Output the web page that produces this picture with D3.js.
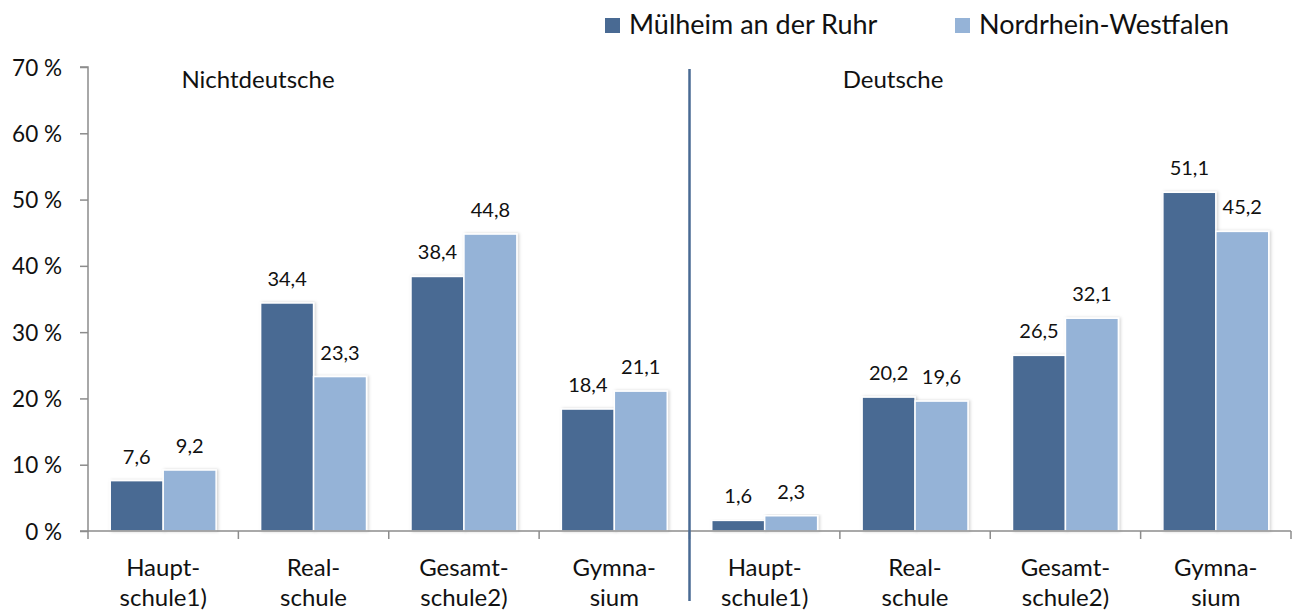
<!DOCTYPE html>
<html><head><meta charset="utf-8">
<script src="https://cdn.jsdelivr.net/npm/d3@7"></script>
<style>
body{margin:0;background:#fff;}
svg text{font-family:Lato,"Noto Sans",sans-serif;fill:#111;}
</style></head>
<body>
<svg id="c" width="1293" height="611"></svg>
<script>
const groups = ["Nichtdeutsche", "Deutsche"];
const categories = [["Haupt-","schule1)"],["Real-","schule"],["Gesamt-","schule2)"],["Gymna-","sium"]];
const series = ["Mülheim an der Ruhr", "Nordrhein-Westfalen"];
const muelheim = [7.6, 34.4, 38.4, 18.4, 1.6, 20.2, 26.5, 51.1];
const nrw = [9.2, 23.3, 44.8, 21.1, 2.3, 19.6, 32.1, 45.2];
const yTicks = [0,10,20,30,40,50,60,70];
const colors = ["#496A93", "#95B3D7"];

(function(){
const svg = d3.select("#c");
const pL = 88, pR = 1291, pT = 67, pB = 531;

const slots = d3.range(8);
const x0 = d3.scaleBand().domain(slots).range([pL, pR]).padding(0);
const x1 = d3.scaleBand().domain([0,1]).range([0, x0.bandwidth()]).paddingInner(0).paddingOuter(0.42);
const y = d3.scaleLinear().domain([0,70]).range([pB, pT]);

const defs = svg.append("defs");
const f = defs.append("filter").attr("id","sh").attr("x","-10%").attr("y","-10%").attr("width","130%").attr("height","130%");
f.append("feDropShadow").attr("dx",1.5).attr("dy",0).attr("stdDeviation",1.5).attr("flood-color","#000").attr("flood-opacity",0.18);

// Y axis
const yAxis = d3.axisLeft(y).tickValues(yTicks).tickSize(8).tickPadding(18).tickFormat(d => d + " %");
const gy = svg.append("g").attr("transform",`translate(${pL},0)`).call(yAxis);
gy.select(".domain").attr("stroke","#8c8c8c").attr("stroke-width",1.5).attr("d",`M-8,${pT}H0V${pB}H-8`);
gy.selectAll(".tick line").attr("stroke","#8c8c8c").attr("stroke-width",1.5);
gy.selectAll(".tick text").style("font-size","22.5px").style("font-family","Lato").attr("fill","#111").attr("dy","0.36em");

// bars
const data = [];
slots.forEach(i => {
  data.push({slot:i, s:0, v:muelheim[i]});
  data.push({slot:i, s:1, v:nrw[i]});
});
svg.append("g").selectAll("rect").data(data).join("rect")
  .attr("x", d => x0(d.slot) + x1(d.s))
  .attr("y", d => y(d.v))
  .attr("width", x1.bandwidth())
  .attr("height", d => y(0) - y(d.v))
  .attr("fill", d => colors[d.s])
  .attr("stroke","#fff").attr("stroke-width",1.5)
  .attr("filter","url(#sh)");

svg.append("g").selectAll("text").data(data).join("text")
  .attr("x", d => x0(d.slot) + x1(d.s) + x1.bandwidth()/2)
  .attr("y", d => y(d.v) - 17)
  .attr("text-anchor","middle")
  .style("font-size","20px")
  .text(d => d3.format(".1f")(d.v).replace(".", ","));

// X axis
const xAxisG = svg.append("g");
xAxisG.append("line").attr("x1",pL).attr("x2",pR).attr("y1",pB).attr("y2",pB).attr("stroke","#8c8c8c").attr("stroke-width",1.5);
const bounds = d3.range(9).map(i => i < 8 ? x0(i) : x0(7) + x0.bandwidth());
xAxisG.selectAll("line.t").data(bounds).join("line").attr("class","t")
  .attr("x1",d=>d).attr("x2",d=>d).attr("y1",pB).attr("y2",pB+8).attr("stroke","#8c8c8c").attr("stroke-width",1.5);
const cl = xAxisG.selectAll("text.c").data(slots).join("text").attr("class","c")
  .attr("text-anchor","middle").style("font-size","24px");
cl.append("tspan").attr("x", d => x0(d) + x0.bandwidth()/2).attr("y", 576).text(d => categories[d % 4][0]);
cl.append("tspan").attr("x", d => x0(d) + x0.bandwidth()/2).attr("y", 606).text(d => categories[d % 4][1]);

// separator
const sepX = x0(4);
svg.append("line").attr("x1",sepX).attr("x2",sepX).attr("y1",69).attr("y2",601).attr("stroke","#496A93").attr("stroke-width",2.5);

// group labels
svg.selectAll("text.g").data(groups).join("text").attr("class","g")
  .attr("x",(d,i)=> i===0 ? 258 : 893).attr("y",88).attr("text-anchor","middle")
  .style("font-size","24px").text(d=>d);

// legend
const legX = [605, 955];
const lg = svg.selectAll("g.lg").data(series).join("g").attr("class","lg")
  .attr("transform",(d,i)=>`translate(${legX[i]},18)`);
lg.append("rect").attr("width",15).attr("height",15).attr("fill",(d,i)=>colors[i]);
lg.append("text").attr("x",24).attr("y",16).style("font-size","27px").text(d=>d);
})();
</script>
</body></html>
